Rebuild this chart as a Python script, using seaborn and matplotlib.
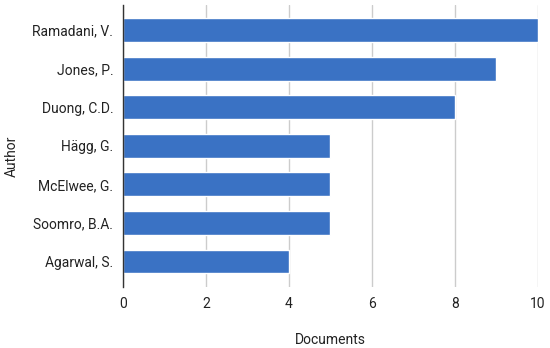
import matplotlib
matplotlib.use('Agg')
import matplotlib.pyplot as plt
import seaborn as sns
import pandas as pd

authors = ['Ramadani, V.', 'Jones, P.', 'Duong, C.D.', 'Hägg, G.', 'McElwee, G.',
           'Soomro, B.A.', 'Agarwal, S.']
documents = [10, 9, 8, 5, 5, 5, 4]

sns.set_style('white')
plt.rcParams['font.family'] = ['Roboto', 'DejaVu Sans']

df = pd.DataFrame({'Author': authors, 'Documents': documents})

fig = plt.figure(figsize=(5.5, 3.48), dpi=100)
ax = fig.add_axes([0.2236, 0.1753, 0.7545, 0.8103])
sns.barplot(data=df, x='Documents', y='Author', color='#3a72c4', saturation=1,
            width=0.62, ax=ax, zorder=2)

ax.set_xlim(0, 10)
ax.set_ylim(6.66, -0.65)
ax.set_xticks([0, 2, 4, 6, 8, 10])
ax.grid(axis='x', color='#cccccc', linewidth=1, zorder=0)
for s in ['top', 'right', 'bottom']:
    ax.spines[s].set_visible(False)
ax.spines['left'].set_color('#333333')
ax.spines['left'].set_linewidth(1)
ax.tick_params(axis='both', length=0, labelsize=10, colors='#222222', pad=7)
ax.set_xlabel('Documents', fontsize=10, color='#222222', labelpad=16)
ax.set_ylabel('Author', fontsize=10, color='#222222', labelpad=10)
ax.yaxis.label.set_y(0.465)

fig.savefig('out.png', dpi=100)
